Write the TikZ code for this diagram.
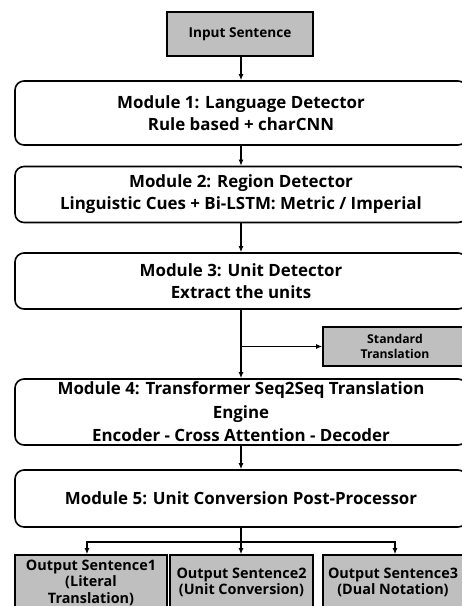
\documentclass[tikz,border=0pt]{standalone}
\usepackage{fontspec}
\setmainfont{Open Sans}
\usetikzlibrary{arrows.meta}
\definecolor{boxgray}{HTML}{BFBFBF}

\begin{document}
\begin{tikzpicture}[x=1pt,y=1pt,>={Latex[length=6pt,width=5pt]}]
    \tikzstyle{every node}=[align=center, inner sep=0pt]
    \tikzstyle{module}=[draw, line width=1.6pt, rounded corners=9pt, minimum width=452pt, font=\fontsize{16.9}{22}\selectfont\bfseries]
    \tikzstyle{greybox}=[draw, line width=1.6pt, fill=boxgray]
    \tikzstyle{link}=[->, line width=1.3pt]
    \useasboundingbox (0,0) rectangle (462,-606);
    \node[greybox, minimum width=146pt, minimum height=44pt, font=\fontsize{13.6}{16}\selectfont\bfseries] (input) at (240,-34) {Input Sentence};
    \node[module, minimum height=64pt] (mod1) at (241,-113) {Module 1: Language Detector\\Rule based + charCNN};
    \node[module, minimum height=56pt] (mod2) at (241,-194.5) {Module 2: Region Detector\\Linguistic Cues + Bi-LSTM: Metric / Imperial};
    \node[module, minimum height=56pt] (mod3) at (241,-281) {Module 3: Unit Detector\\Extract the units};
    \node[greybox, minimum width=144pt, minimum height=39pt, font=\fontsize{12.2}{15.5}\selectfont\bfseries] (std) at (395,-346.5) {Standard\\Translation};
    \node[module, minimum height=66pt, font=\fontsize{16.9}{23.5}\selectfont\bfseries] (mod4) at (241,-412) {Module 4: Transformer Seq2Seq Translation\\Engine\\Encoder - Cross Attention - Decoder};
    \node[module, minimum height=57pt] (mod5) at (241,-498.5) {Module 5: Unit Conversion Post-Processor};
    \tikzstyle{outbox}=[greybox, minimum height=55pt, font=\fontsize{14.4}{16.5}\selectfont\bfseries]
    \node[outbox, minimum width=152pt] (out1) at (91,-582.5) {Output Sentence1\\(Literal\\Translation)};
    \node[outbox, minimum width=143pt] (out2) at (241.5,-582.5) {Output Sentence2\\(Unit Conversion)};
    \node[outbox, minimum width=140pt] (out3) at (393,-582.5) {Output Sentence3\\(Dual Notation)};
    \coordinate (fork) at (241,-542);
    \draw[link] ([xshift=1pt]input.south) -- ([xshift=1pt]input.south |- mod1.north);
    \draw[link] (mod1.south -| fork) -- (mod2.north -| fork);
    \draw[link] (mod2.south -| fork) -- (mod3.north -| fork);
    \draw[link] (mod3.south -| fork) -- (mod4.north -| fork);
    \draw[link] (fork |- std.west) -- (std.west);
    \draw[link] (mod4.south -| fork) -- (mod5.north -| fork);
    \draw[link] (mod5.south -| fork) -- (fork |- out2.north);
    \draw[link] (fork) -| ([xshift=-4pt]out1.north);
    \draw[link] (fork) -| ([xshift=2pt]out3.north);
\end{tikzpicture}
\end{document}
